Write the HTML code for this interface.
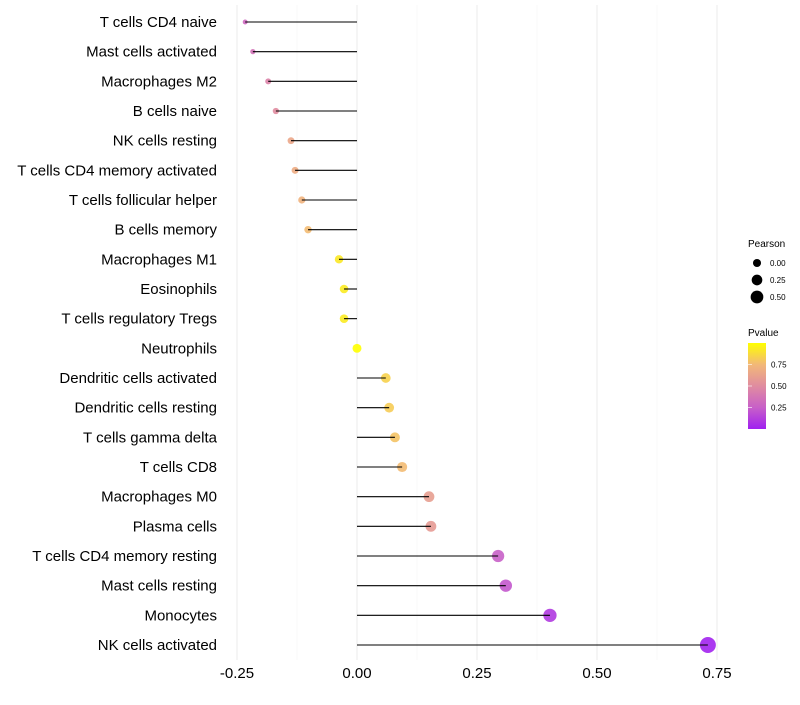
<!DOCTYPE html>
<html><head><meta charset="utf-8"><style>
body{margin:0;background:#fff;font-family:"Liberation Sans",sans-serif;}
svg text{font-family:"Liberation Sans",sans-serif;}
</style></head><body>
<svg id="chart" width="800" height="700" xmlns="http://www.w3.org/2000/svg">
<g id="grid"></g><g id="points"></g><g id="marks"></g><g id="labels"></g>
<g id="legend">
<text x="748" y="247" font-size="10">Pearson</text>
<g id="sizeLeg"></g>
<text x="748" y="336" font-size="10">Pvalue</text>
<defs><linearGradient id="pg" x1="0" y1="1" x2="0" y2="0">
<stop offset="0" stop-color="#a020f0"/><stop offset="0.25" stop-color="#c860c8"/><stop offset="0.5" stop-color="#e08ca0"/><stop offset="0.75" stop-color="#f2b878"/><stop offset="1" stop-color="#ffff00"/></linearGradient></defs>
<rect x="748" y="343" width="18" height="86" fill="url(#pg)"/>
<g id="colLeg"></g>
</g>
</svg>
<script>
const categories=["T cells CD4 naive","Mast cells activated","Macrophages M2","B cells naive","NK cells resting","T cells CD4 memory activated","T cells follicular helper","B cells memory","Macrophages M1","Eosinophils","T cells regulatory  Tregs ","Neutrophils","Dendritic cells activated","Dendritic cells resting","T cells gamma delta","T cells CD8","Macrophages M0","Plasma cells","T cells CD4 memory resting","Mast cells resting","Monocytes","NK cells activated"];
const pearson=[-0.233,-0.217,-0.185,-0.169,-0.1375,-0.129,-0.115,-0.102,-0.0375,-0.027,-0.027,0,0.06,0.067,0.079,0.094,0.15,0.154,0.294,0.31,0.402,0.731];
const pvalue=[0.3,0.35,0.45,0.5,0.65,0.68,0.72,0.76,0.92,0.93,0.93,1.0,0.84,0.82,0.79,0.76,0.6,0.58,0.25,0.22,0.1,0.01];
const xTicks=[-0.25,0,0.25,0.5,0.75];
const xTickLabels=["-0.25","0.00","0.25","0.50","0.75"];
const sizeLegVals=[0,0.25,0.5];
const sizeLegLabels=["0.00","0.25","0.50"];
const colLegVals=[0.25,0.5,0.75];
const colLegLabels=["0.25","0.50","0.75"];

const NS="http://www.w3.org/2000/svg";
const x=v=>357+v*480;
const y=i=>22+i*(623/21);
const vmin=-0.233;
const r=v=>Math.sqrt(6+60*(v-vmin));
const stops=[[0,[160,32,240]],[0.25,[200,96,200]],[0.5,[224,140,160]],[0.75,[242,184,120]],[1,[255,255,0]]];
function col(p){for(let k=1;k<stops.length;k++){if(p<=stops[k][0]){const a=stops[k-1],b=stops[k],t=(p-a[0])/(b[0]-a[0]);return "rgb("+a[1].map((c,j)=>Math.round(c+(b[1][j]-c)*t)).join(",")+")";}}return "rgb(255,255,0)";}
function mk(tag,at,parent){const e=document.createElementNS(NS,tag);for(const k in at)e.setAttribute(k,at[k]);document.getElementById(parent).appendChild(e);return e;}
for(let k=0;k<xTicks.length;k++){
 const g=mk("line",{x1:x(xTicks[k]),x2:x(xTicks[k]),y1:5,y2:660,stroke:"#ebebeb","stroke-width":1},"grid");
 
 
 if(k<xTicks.length-1){const m=mk("line",{x1:x((xTicks[k]+xTicks[k+1])/2),x2:x((xTicks[k]+xTicks[k+1])/2),y1:5,y2:660,stroke:"#f3f3f3","stroke-width":0.6},"grid");
 
 }
 const t=mk("text",{x:x(xTicks[k]),y:678,"font-size":15,"text-anchor":"middle",fill:"#000"},"labels");
 t.textContent=xTickLabels[k];
 
 
}
categories.forEach((c,i)=>{
 const t=mk("text",{x:217,y:y(i)+5,"font-size":15,"text-anchor":"end",fill:"#000"},"labels");
 t.textContent=c;
 
 
 const p=mk("circle",{cx:x(pearson[i]),cy:y(i),r:r(pearson[i]),fill:col(pvalue[i]),"fill-opacity":0.9},"points");
 
 
 const l=mk("line",{x1:x(0),x2:x(pearson[i]),y1:y(i),y2:y(i),stroke:"#000","stroke-width":1.1},"marks");
 
 
});
sizeLegVals.forEach((v,k)=>{
 const cy=263+k*17;
 const c=mk("circle",{cx:757,cy:cy,r:r(v)*0.9,fill:"#000"},"sizeLeg");
 
 
 const t=mk("text",{x:770,y:cy+3,"font-size":8},"sizeLeg");
 t.textContent=sizeLegLabels[k];
 
 
});
colLegVals.forEach((v,k)=>{
 const yy=429-v*86;
 const l=mk("line",{x1:748,x2:752,y1:yy,y2:yy,stroke:"#fff","stroke-opacity":0.6},"colLeg");
 
 
 const t=mk("text",{x:771,y:yy+3,"font-size":8},"colLeg");
 t.textContent=colLegLabels[k];
 
 
});
</script>
</body></html>
